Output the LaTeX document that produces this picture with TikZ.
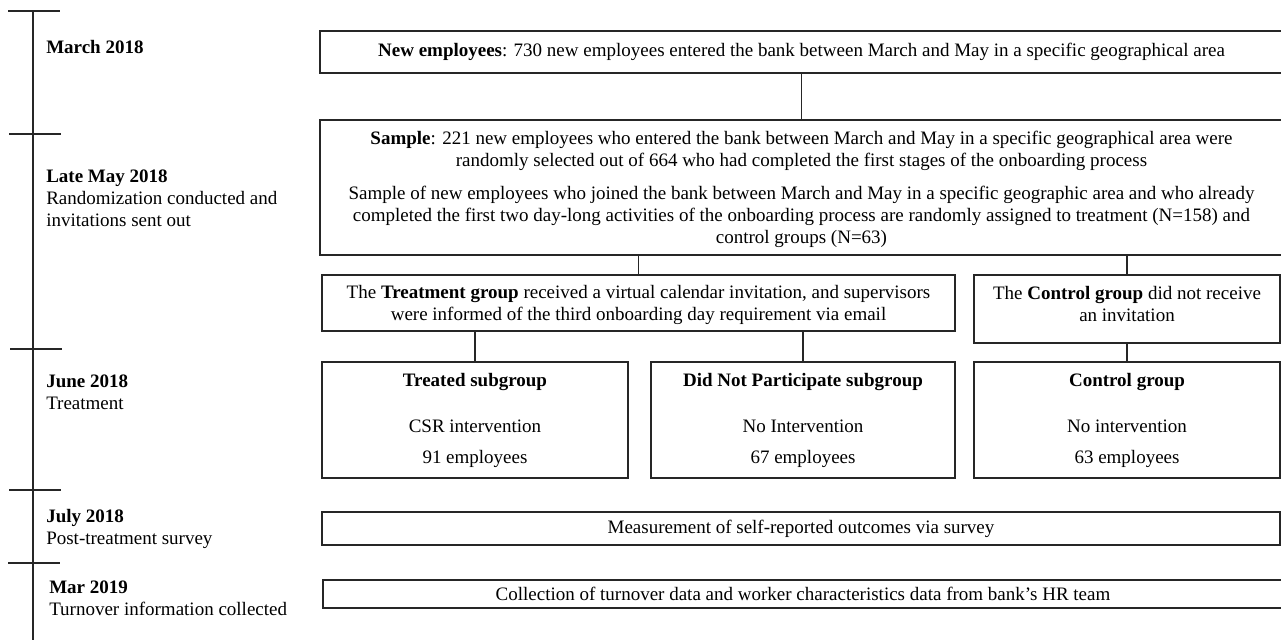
\documentclass[tikz,border=0pt]{standalone}
\usepackage{fontspec}
\setmainfont{Liberation Serif}
\begin{document}
\begin{tikzpicture}[x=0.75pt,y=-0.75pt,
  font=\fontsize{14.25pt}{16.5pt}\selectfont,
  box/.style={draw=black!85, line width=0.8pt, inner sep=0pt, align=center},
  tl/.style={align=left, inner sep=0pt, anchor=west},
  conn/.style={draw=black!85, line width=0.8pt},
  tline/.style={draw=black!85, line width=0.8pt}]
\useasboundingbox (0,0) rectangle (1281,639);
\clip (0,0) rectangle (1281,639);

% timeline
\coordinate (ttop) at (33,10);
\coordinate (tbot) at (33,640);
\coordinate (k1a) at (8,11);   \coordinate (k1b) at (60,11);
\coordinate (k2a) at (9,134);  \coordinate (k2b) at (61,134);
\coordinate (k3a) at (10,349); \coordinate (k3b) at (62,349);
\coordinate (k4a) at (9,490);  \coordinate (k4b) at (61,490);
\coordinate (k5a) at (8,563);  \coordinate (k5b) at (60,563);
\draw[tline] (ttop) -- (tbot);
\draw[tline] (k1a) -- (k1b);
\draw[tline] (k2a) -- (k2b);
\draw[tline] (k3a) -- (k3b);
\draw[tline] (k4a) -- (k4b);
\draw[tline] (k5a) -- (k5b);

\node[tl] (t1) at (46,47.5) {\textbf{March 2018}};
\node[tl] (t2) at (46,198.5) {\textbf{Late May 2018}\\Randomization conducted and\\invitations sent out};
\node[tl] (t3) at (46,392.5) {\textbf{June 2018}\\Treatment};
\node[tl] (t4) at (46,528.5) {\textbf{July 2018}\\Post-treatment survey};
\node[tl] (t5) at (49,598) {\textbf{Mar 2019}\\Turnover information collected};

% boxes
\node[box, minimum width=722.25pt, minimum height=31.5pt] (b1) at (801.5,52)
  {\textbf{New employees}: 730 new employees entered the bank between March and May in a specific geographical area};
\node[box, minimum width=722.25pt, minimum height=101.25pt, text depth=0pt] (b2) at (801.5,187.5)
  {\textbf{Sample}: 221 new employees who entered the bank between March and May in a specific geographical area were\\
   randomly selected out of 664 who had completed the first stages of the onboarding process\\[8pt]
   Sample of new employees who joined the bank between March and May in a specific geographic area and who already\\
   completed the first two day-long activities of the onboarding process are randomly assigned to treatment (N=158) and\\
   control groups (N=63)};
\node[box, minimum width=474.75pt, minimum height=42pt, text depth=0pt] (b3) at (638.5,303)
  {The \textbf{Treatment group} received a virtual calendar invitation, and supervisors\\
   were informed of the third onboarding day requirement via email};
\node[box, minimum width=229.5pt, minimum height=51pt, text depth=8pt] (b4) at (1127,309)
  {The \textbf{Control group} did not receive\\an invitation};
\node[box, minimum width=229.5pt, minimum height=87pt] (b5) at (475,420)
  {\textbf{Treated subgroup}\\[18pt]CSR intervention\\[6.75pt]91 employees};
\node[box, minimum width=228pt, minimum height=87pt] (b6) at (803,420)
  {\textbf{Did Not Participate subgroup}\\[18pt]No Intervention\\[6.75pt]67 employees};
\node[box, minimum width=229.5pt, minimum height=87pt] (b7) at (1127,420)
  {\textbf{Control group}\\[18pt]No intervention\\[6.75pt]63 employees};
\node[box, minimum width=718.5pt, minimum height=24.75pt] (b8) at (801,528.5)
  {Measurement of self-reported outcomes via survey};
\node[box, minimum width=720pt, minimum height=21pt] (b9) at (803,594)
  {Collection of turnover data and worker characteristics data from bank’s HR team};

% connectors
\draw[conn] (b1.south) -- (b2.north);
\draw[conn] (b2.south -| b3.north) -- (b3.north);
\draw[conn] (b2.south -| b4.north) -- (b4.north);
\draw[conn] (b3.south -| b5.north) -- (b5.north);
\draw[conn] (b3.south -| b6.north) -- (b6.north);
\draw[conn] (b4.south) -- (b7.north);
\end{tikzpicture}
\end{document}
